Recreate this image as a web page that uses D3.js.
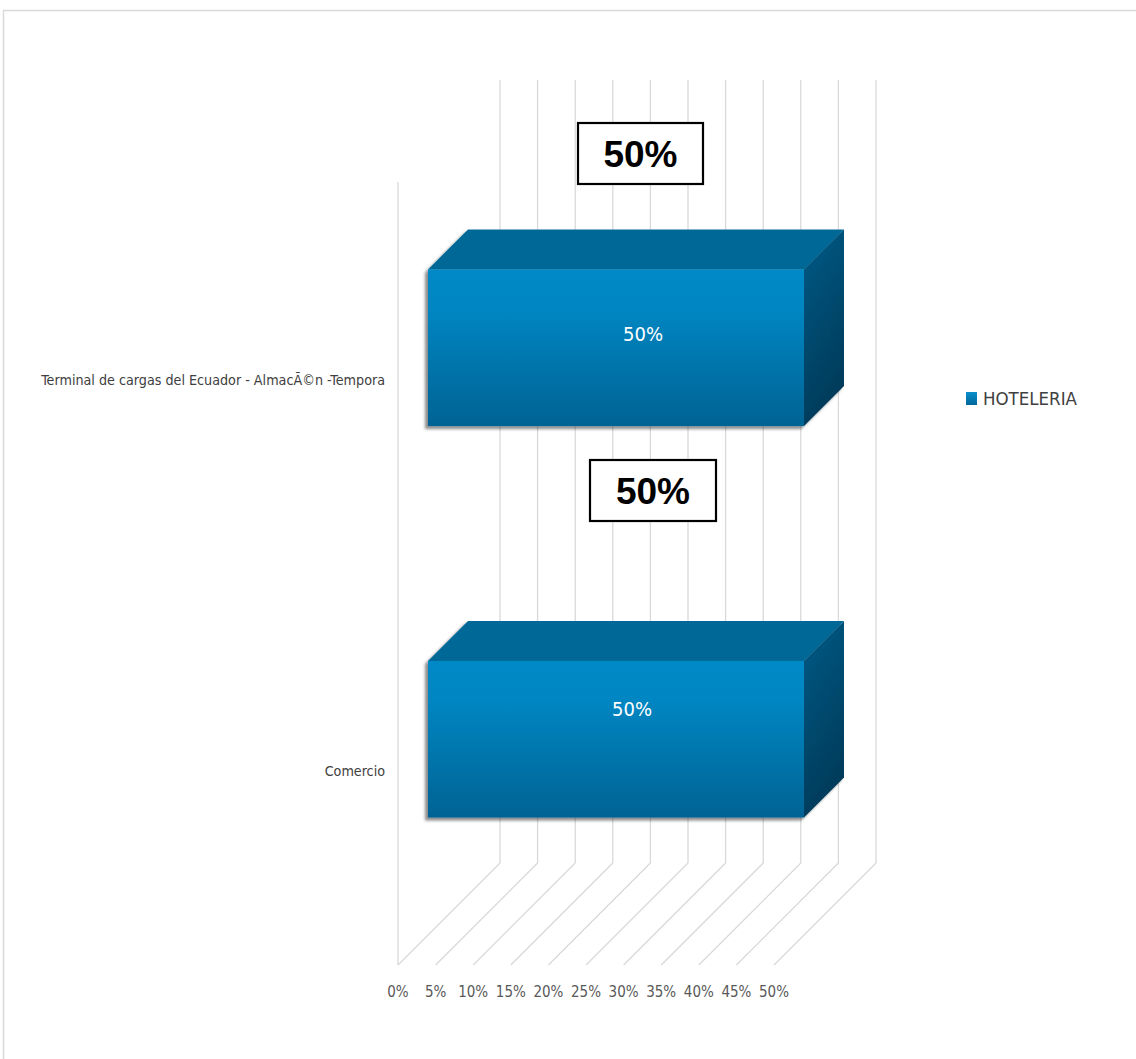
<!DOCTYPE html>
<html>
<head>
<meta charset="utf-8">
<script src="https://cdn.jsdelivr.net/npm/d3@7"></script>
<style>
html,body{margin:0;padding:0;background:#fff;}
svg{display:block;}
</style>
</head>
<body>
<div id="chart"></div>
<script>
// ---- data ----
const categories = ["Terminal de cargas del Ecuador - AlmacÃ©n -Tempora", "Comercio"];
const seriesName = "HOTELERIA";
const values = [0.5, 0.5];
const dataLabels = ["50%", "50%"];
const tickValues = [0, 0.05, 0.10, 0.15, 0.20, 0.25, 0.30, 0.35, 0.40, 0.45, 0.50];
const tickLabels = ["0%", "5%", "10%", "15%", "20%", "25%", "30%", "35%", "40%", "45%", "50%"];

// ---- layout ----
const W = 1136, H = 1059;
const plot = {left: 398, right: 774, top: 182, bottom: 965};
const depth = 102;          // 45-degree depth of the floor
const barFront = 30, barBack = 70;
// callout boxes (absolute, custom-placed in the original)
const calloutBoxes = [{x: 577, y: 122, w: 127, h: 63}, {x: 589, y: 459, w: 128, h: 63}];
// inner label offsets from bar front-face centre
const innerOffsets = [{dx: 27, dy: -14}, {dx: 16, dy: -30}];

const narrow = "'Liberation Sans Narrow','Arial Narrow','DejaVu Sans Condensed',sans-serif";

const svg = d3.select("#chart").append("svg").attr("width", W).attr("height", H);
const defs = svg.append("defs");

const gFront = defs.append("linearGradient").attr("id", "gFront").attr("x1", 0).attr("y1", 0).attr("x2", 0).attr("y2", 1);
gFront.append("stop").attr("offset", "0%").attr("stop-color", "#0089c7");
gFront.append("stop").attr("offset", "25%").attr("stop-color", "#0086c2");
gFront.append("stop").attr("offset", "100%").attr("stop-color", "#006394");
const gSide = defs.append("linearGradient").attr("id", "gSide").attr("x1", 0).attr("y1", 0).attr("x2", 0.3).attr("y2", 1);
gSide.append("stop").attr("offset", "0%").attr("stop-color", "#005a86");
gSide.append("stop").attr("offset", "100%").attr("stop-color", "#003b5a");
const gLeg = defs.append("linearGradient").attr("id", "gLeg").attr("x1", 0).attr("y1", 0).attr("x2", 0).attr("y2", 1);
gLeg.append("stop").attr("offset", "0%").attr("stop-color", "#0a8fcc");
gLeg.append("stop").attr("offset", "100%").attr("stop-color", "#00679a");

const shadow = defs.append("filter").attr("id", "shadow").attr("x", "-10%").attr("y", "-20%").attr("width", "130%").attr("height", "150%");
shadow.append("feDropShadow").attr("dx", -3).attr("dy", 3).attr("stdDeviation", 1.6)
  .attr("flood-color", "#000").attr("flood-opacity", 0.45);

// chart area border
svg.append("rect").attr("x", 3.5).attr("y", 10.5).attr("width", W + 20).attr("height", H + 20)
  .attr("fill", "none").attr("stroke", "#d9d9d9").attr("stroke-width", 1.5);

// ---- scales ----
const x = d3.scaleLinear().domain([0, 0.5]).range([plot.left, plot.right]);
const y = d3.scaleBand().domain(categories).range([plot.top, plot.bottom]).paddingInner(0.6).paddingOuter(0.3);

const grid = svg.append("g").attr("stroke", "#d9d9d9").attr("stroke-width", 1.3).attr("fill", "none");
// back wall gridlines
grid.selectAll("line.back").data(tickValues).join("line")
  .attr("x1", d => x(d) + depth).attr("x2", d => x(d) + depth)
  .attr("y1", plot.top - depth).attr("y2", plot.bottom - depth);
// floor diagonals
grid.selectAll("line.floor").data(tickValues).join("line")
  .attr("x1", d => x(d)).attr("x2", d => x(d) + depth)
  .attr("y1", plot.bottom).attr("y2", plot.bottom - depth);
// side wall front edge
grid.append("line").attr("x1", x(0)).attr("x2", x(0)).attr("y1", plot.top).attr("y2", plot.bottom);

// tick labels
svg.append("g").selectAll("text").data(tickValues).join("text")
  .attr("x", d => x(d)).attr("y", 997)
  .attr("text-anchor", "middle")
  .attr("font-family", narrow).attr("font-size", 15).attr("fill", "#595959")
  .text((d, i) => tickLabels[i]);

// category labels
svg.append("g").selectAll("text").data(categories).join("text")
  .attr("x", 385).attr("y", d => y(d) + y.bandwidth() / 2 + 2)
  .attr("dy", "0.35em")
  .attr("text-anchor", "end")
  .attr("font-family", narrow).attr("font-size", 14.2).attr("fill", "#404040")
  .text(d => d);

// ---- bars ----
const bars = svg.append("g").selectAll("g").data(categories).join("g").attr("filter", "url(#shadow)");
bars.each(function(cat, i) {
  const g = d3.select(this);
  const v = values[i];
  const y0 = y(cat), y1 = y(cat) + y.bandwidth();
  const xl = x(0), xr = x(v);
  const f = barFront, b = barBack;
  const pts = a => a.map(p => p.join(",")).join(" ");
  // top face
  g.append("polygon").attr("points", pts([[xl + f, y0 - f], [xr + f, y0 - f], [xr + b, y0 - b], [xl + b, y0 - b]]))
    .attr("fill", "#006896");
  // right face
  g.append("polygon").attr("points", pts([[xr + f, y0 - f], [xr + b, y0 - b], [xr + b, y1 - b], [xr + f, y1 - f]]))
    .attr("fill", "url(#gSide)");
  // front face
  g.append("rect").attr("x", xl + f).attr("y", y0 - f).attr("width", xr - xl).attr("height", y1 - y0)
    .attr("fill", "url(#gFront)");
});

// inner labels
svg.append("g").selectAll("text").data(categories).join("text")
  .attr("x", (d, i) => (x(0) + x(values[i])) / 2 + barFront + innerOffsets[i].dx)
  .attr("y", (d, i) => y(d) + y.bandwidth() / 2 - barFront + innerOffsets[i].dy)
  .attr("dy", "0.35em").attr("text-anchor", "middle")
  .attr("font-family", narrow).attr("font-size", 20).attr("fill", "#ffffff")
  .text((d, i) => dataLabels[i]);

// callout boxes
const cb = svg.append("g").selectAll("g").data(calloutBoxes).join("g");
cb.append("rect").attr("x", d => d.x + 1).attr("y", d => d.y + 1).attr("width", d => d.w - 2).attr("height", d => d.h - 2)
  .attr("fill", "#fff").attr("stroke", "#000").attr("stroke-width", 2.2);
cb.append("text").attr("x", d => d.x + d.w / 2).attr("y", d => d.y + d.h / 2)
  .attr("dy", "0.36em").attr("text-anchor", "middle")
  .attr("font-family", "'Liberation Sans',Arial,sans-serif").attr("font-weight", "bold").attr("font-size", 37).attr("fill", "#000")
  .text((d, i) => dataLabels[i]);

// legend
const leg = svg.append("g").attr("transform", "translate(966,392)");
leg.append("rect").attr("width", 11).attr("height", 13).attr("fill", "url(#gLeg)");
leg.append("text").attr("x", 17).attr("y", 7).attr("dy", "0.35em")
  .attr("font-family", narrow).attr("font-size", 18.5).attr("fill", "#404040")
  .text(seriesName);
</script>
</body>
</html>
